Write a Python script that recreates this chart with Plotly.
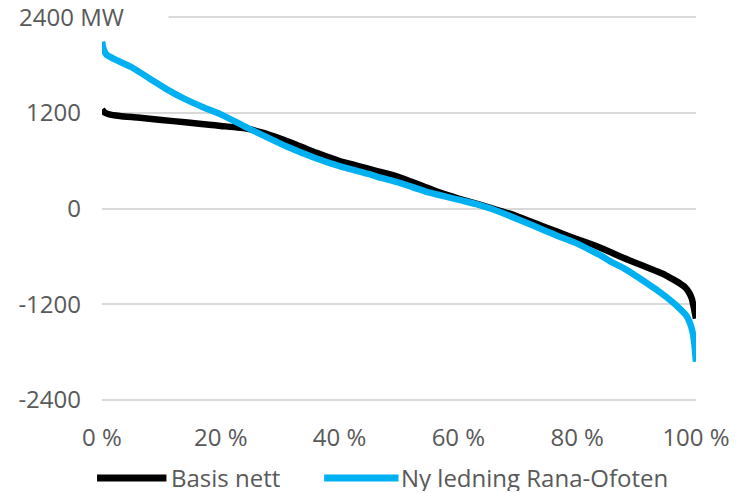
import plotly.graph_objects as go

# Duration curves: share of hours (%) vs. flow (MW)
pct_basis = [0, 0.4, 1.2, 3, 6, 10, 14, 18, 20, 24.5, 27, 30, 32, 34, 36, 40, 43, 46, 50, 54.4,
             57, 60, 63.3, 65.8, 70, 75, 76.6, 80, 82.3, 84, 86, 87.9, 90, 92, 93.5, 95, 96.3,
             97.3, 98.2, 98.8, 99.3, 99.6, 100]
mw_basis = [1240, 1205, 1180, 1160, 1140, 1110, 1080, 1050, 1035, 1000, 950, 875, 820, 760, 700,
            595, 535, 475, 395, 270, 195, 125, 55, 0, -100, -245, -290, -385, -445, -495, -560,
            -622, -685, -745, -790, -840, -895, -940, -990, -1050, -1130, -1230, -1380]

pct_ny = [0, 0.3, 0.8, 2, 5, 8, 11, 14, 17, 20, 24.5, 28, 31, 36, 40, 45, 47, 50, 54.4, 60,
          63.3, 65.8, 70, 75, 76.6, 80, 82.3, 84, 86, 87.9, 90, 92, 93.5, 95, 96.9, 98.4,
          99, 99.4, 99.7, 100]
mw_ny = [2090, 1990, 1925, 1875, 1770, 1630, 1490, 1370, 1270, 1180, 1010, 885, 780, 630,
         530, 430, 385, 325, 215, 110, 50, -10, -135, -290, -340, -440, -525, -590, -680,
         -750, -850, -950, -1025, -1110, -1230, -1345, -1440, -1540, -1680, -1920]

series_names = ["Basis nett", "Ny ledning Rana-Ofoten"]
series_colors = ["#000000", "#00B0F0"]

y_ticks = [-2400, -1200, 0, 1200, 2400]
y_ticktext = ["-2400", "-1200", "0", "1200", ""]
y_top_label = "2400 MW"
x_ticks = [0, 20, 40, 60, 80, 100]
x_ticktext = ["0 %", "20 %", "40 %", "60 %", "80 %", "100 %"]

W, H = 742, 493
L, R, T, B = 102, 41, 15, 91
PW = W - L - R
PH = H - T - B
Y_LIM = 2425  # a little headroom so the outer grid lines are drawn


def px_x(p):
    return (p - L) / PW


def px_y(p):
    return (H - B - p) / PH


FONT = "Open Sans"
GREY = "#595959"

fig = go.Figure()
for xs, ys, name, col in [(pct_basis, mw_basis, series_names[0], series_colors[0]),
                          (pct_ny, mw_ny, series_names[1], series_colors[1])]:
    fig.add_trace(go.Scatter(x=xs, y=ys, mode="lines", name=name,
                             line=dict(color=col, width=6.5, shape="spline", smoothing=0.5),
                             showlegend=False))

# Top axis label with unit, boxed in white over the grid line
fig.add_annotation(text=y_top_label, xref="paper", yref="y", x=px_x(16), y=2400,
                   xanchor="left", yanchor="middle", showarrow=False, align="left",
                   width=148, bgcolor="white", font=dict(family=FONT, size=24, color=GREY))

# Legend drawn below the axis
leg_y = px_y(477)
legend_items = [(97, 167, 171), (326, 401, 403)]
for (x0, x1, xt), name, col in zip(legend_items, series_names, series_colors):
    fig.add_shape(type="line", xref="paper", yref="paper", x0=px_x(x0), x1=px_x(x1),
                  y0=px_y(478), y1=px_y(478), line=dict(color=col, width=7))
    fig.add_annotation(text=name, xref="paper", yref="paper", x=px_x(xt), y=leg_y,
                       xanchor="left", yanchor="middle", showarrow=False, height=28,
                       borderpad=0, font=dict(family=FONT, size=24, color=GREY))

fig.update_layout(
    width=W, height=H,
    margin=dict(l=L, r=R, t=T, b=B, pad=0),
    paper_bgcolor="white", plot_bgcolor="white",
    font=dict(family=FONT, size=24, color=GREY),
    xaxis=dict(range=[0, 100], tickvals=x_ticks, ticktext=x_ticktext, showgrid=False,
               zeroline=False, showline=False, ticks="", ticklabelstandoff=19),
    yaxis=dict(range=[-Y_LIM, Y_LIM], tickvals=y_ticks, ticktext=y_ticktext, showgrid=True,
               gridcolor="#D9D9D9", gridwidth=2, zeroline=False, showline=False, ticks="",
               ticklabelstandoff=20),
)

fig.write_html("out.html")
